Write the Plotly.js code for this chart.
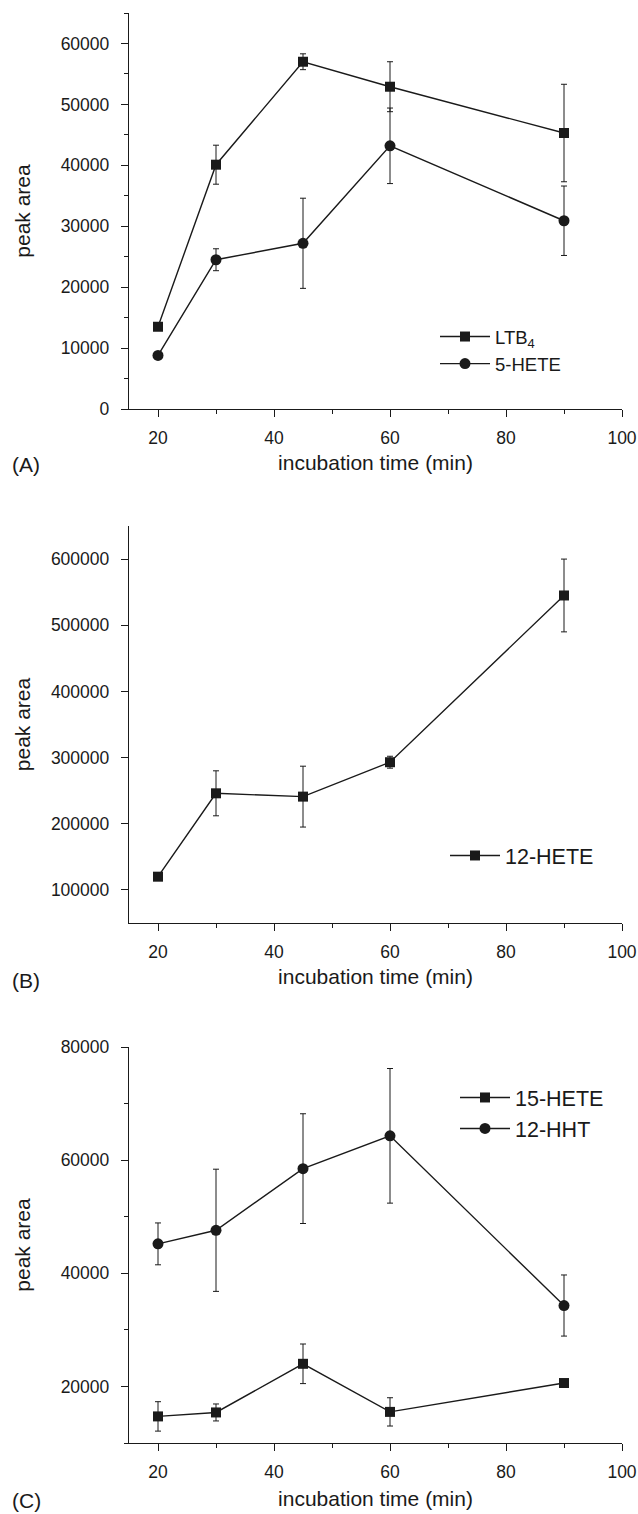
<!DOCTYPE html>
<html>
<head>
<meta charset="utf-8">
<script src="https://cdn.plot.ly/plotly-3.0.1.min.js"></script>
<style>html,body{margin:0;padding:0;background:#fff;}</style>
</head>
<body>
<div id="chart" style="width:638px;height:1514px;"></div>
<script>
// ---- data ----
const time = [20, 30, 45, 60, 90];
const ltb4 = [13500, 40100, 57000, 52900, 45300];
const ltb4Err = [600, 3200, 1300, 4100, 8000];
const hete5 = [8800, 24500, 27200, 43200, 30900];
const hete5Err = [500, 1800, 7400, 6200, 5700];
const hete12 = [120000, 246000, 241000, 293000, 545000];
const hete12Err = [4000, 34000, 46000, 9000, 55000];
const hete15 = [14700, 15400, 24000, 15500, 20600];
const hete15Err = [2600, 1500, 3500, 2500, 600];
const hht12 = [45200, 47600, 58500, 64300, 34300];
const hht12Err = [3700, 10800, 9700, 11900, 5400];

const xTicks = [20, 40, 60, 80, 100];
const yTicksA = [0, 10000, 20000, 30000, 40000, 50000, 60000];
const yTicksB = [100000, 200000, 300000, 400000, 500000, 600000];
const yTicksC = [20000, 40000, 60000, 80000];

const xTitle = 'incubation time (min)';
const yTitle = 'peak area';
const panelLabels = ['(A)', '(B)', '(C)'];

// ---- geometry helpers ----
const W = 638, H = 1514;
const M = {l: 129, r: 16, t: 13, b: 71};
const PW = W - M.l - M.r, PH = H - M.t - M.b;
const px2x = x => (x - M.l) / PW;
const px2y = y => 1 - (y - M.t) / PH;

const FONT = 'Liberation Sans, Arial, sans-serif';
const INK = '#1a1a1a';

function trace(y, err, name, symbol, xa, ya, leg) {
  return {
    x: time, y: y, name: name, type: 'scatter', mode: 'lines+markers',
    xaxis: xa, yaxis: ya, legend: leg,
    line: {color: INK, width: 1.4},
    marker: {symbol: symbol, size: symbol === 'circle' ? 11 : 10, color: INK},
    error_y: {type: 'data', array: err, visible: true, color: INK, thickness: 1, width: 3}
  };
}

const data = [
  trace(ltb4, ltb4Err, 'LTB<sub>4</sub>', 'square', 'x', 'y', 'legend'),
  trace(hete5, hete5Err, '5-HETE', 'circle', 'x', 'y', 'legend'),
  trace(hete12, hete12Err, '12-HETE', 'square', 'x2', 'y2', 'legend2'),
  trace(hete15, hete15Err, '15-HETE', 'square', 'x3', 'y3', 'legend3'),
  trace(hht12, hht12Err, '12-HHT', 'circle', 'x3', 'y3', 'legend3')
];

function xAxis(anchor, standoff) {
  return {
    anchor: anchor, domain: [0, 1], range: [15, 100],
    tickvals: xTicks, ticks: 'outside', ticklen: 7, tickwidth: 1, tickcolor: INK,
    minor: {dtick: 10, tick0: 0, ticks: 'outside', ticklen: 4, tickwidth: 1, tickcolor: INK, showgrid: false},
    showline: true, linecolor: INK, linewidth: 1.2, showgrid: false, zeroline: false,
    ticklabelstandoff: 6,
    tickfont: {family: FONT, size: 17.5, color: INK},
    title: {text: xTitle, font: {family: FONT, size: 21, color: INK}, standoff: standoff},
    automargin: 'left+right'
  };
}
function yAxis(anchor, dom, range, ticks, minorDtick, standoff) {
  const ax = {
    anchor: anchor, domain: dom, range: range,
    tickvals: ticks, tickformat: 'd', ticks: 'outside', ticklen: 7, tickwidth: 1, tickcolor: INK,
    showline: true, linecolor: INK, linewidth: 1.2, showgrid: false, zeroline: false,
    ticklabelstandoff: 8,
    tickfont: {family: FONT, size: 17.5, color: INK},
    title: {text: yTitle, font: {family: FONT, size: 21, color: INK}, standoff: standoff},
    automargin: 'left+right'
  };
  if (minorDtick) ax.minor = {dtick: minorDtick, ticks: 'outside', ticklen: 4, tickwidth: 1, tickcolor: INK, showgrid: false};
  return ax;
}

const domA = [px2y(409), px2y(13)];
const domB = [px2y(923), px2y(526)];
const domC = [px2y(1443), px2y(1047)];

function legendAt(xpx, ypx, size) {
  return {
    x: px2x(xpx), y: px2y(ypx), xanchor: 'left', yanchor: 'top',
    bgcolor: 'rgba(0,0,0,0)', borderwidth: 0, itemwidth: 50,
    font: {family: FONT, size: size, color: INK}
  };
}

const layout = {
  width: W, height: H, margin: Object.assign({autoexpand: false}, M),
  paper_bgcolor: '#fff', plot_bgcolor: '#fff',
  showlegend: true,
  xaxis: xAxis('y', 8), yaxis: yAxis('x', domA, [0, 65000], yTicksA, 5000, 24),
  xaxis2: xAxis('y2', 8), yaxis2: yAxis('x2', domB, [50000, 650000], yTicksB, null, 14),
  xaxis3: xAxis('y3', 10), yaxis3: yAxis('x3', domC, [10000, 80000], yTicksC, 10000, 24),
  legend: legendAt(435, 318, 18.5),
  legend2: legendAt(445, 835, 21.5),
  legend3: legendAt(455, 1077, 21.5),
  annotations: [
    {text: panelLabels[0], x: px2x(10), y: px2y(465)},
    {text: panelLabels[1], x: px2x(10), y: px2y(980)},
    {text: panelLabels[2], x: px2x(10), y: px2y(1500)}
  ].map(a => Object.assign(a, {xref: 'paper', yref: 'paper', xanchor: 'left', yanchor: 'middle',
    showarrow: false, font: {family: FONT, size: 21, color: INK}}))
};

Plotly.newPlot('chart', data, layout, {displayModeBar: false, staticPlot: true});
</script>
</body>
</html>
